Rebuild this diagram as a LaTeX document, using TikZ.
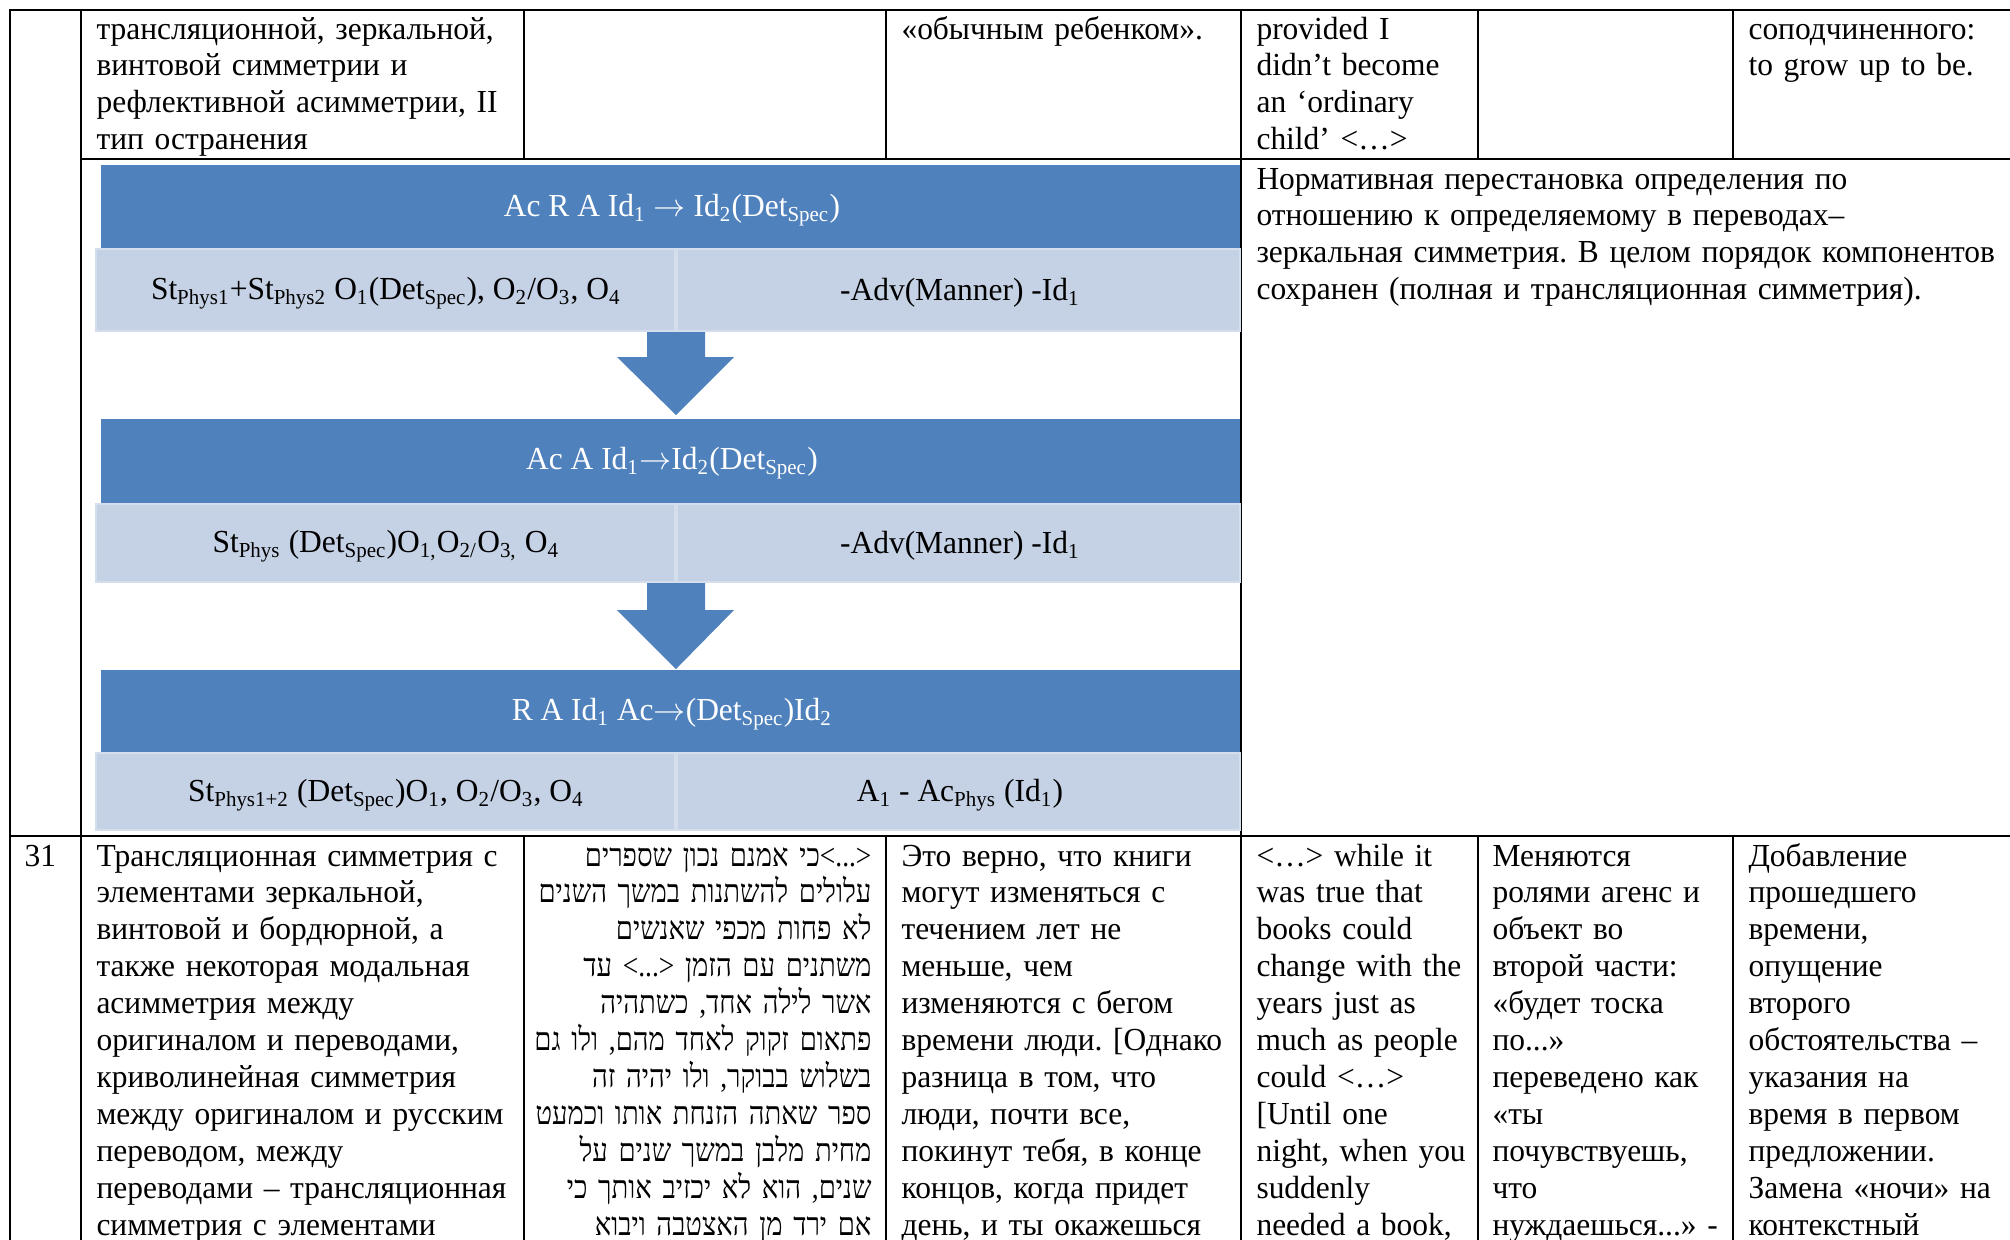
\documentclass[tikz,border=0pt]{standalone}
\usepackage{fontspec}
\setmainfont{Liberation Serif}[FakeStretch=0.98]
\newfontfamily\hebfont[Script=Hebrew,FakeStretch=0.855]{Liberation Serif}
\TeXXeTstate=1
\frenchspacing
\definecolor{bandblue}{RGB}{79,129,189}
\definecolor{celltint}{RGB}{197,209,228}
\definecolor{celledge}{RGB}{213,222,236}
\newcommand\sbs[1]{\textsubscript{#1}}
\newcommand\rarr{\ensuremath{\rightarrow}}

\begin{document}
\begin{tikzpicture}[x=0.374pt,y=-0.374pt,
  rule/.style={line width=0.8pt, line cap=rect},
  celltext/.style={inner sep=0pt, font=\fontsize{12pt}{13.8pt}\selectfont\frenchspacing,
    align=left, text width=#1, anchor=base west},
  hebtext/.style={inner sep=0pt, font=\fontsize{12pt}{13.8pt}\selectfont\hebfont,
    align=right, text width=#1, anchor=base east},
  band/.style={fill=bandblue, draw=none},
  tint/.style={fill=celltint, draw=celledge, line width=1.1pt},
  bandlabel/.style={inner sep=0pt, text=white, font=\fontsize{12pt}{13.8pt}\selectfont},
  tintlabel/.style={inner sep=0pt, text=black, font=\fontsize{12pt}{13.8pt}\selectfont},
  flowarrow/.style={fill=bandblue, draw=none}
]
\useasboundingbox (0,0) rectangle (2010,1239);
\fill[white] (0,0) rectangle (2010,1239);
\clip (0,0) rectangle (2010,1239);

% ---- table rules ----
\draw[rule] (10,10) -- (2010,10);
\draw[rule] (81,159) -- (2010,159);
\draw[rule] (10,836) -- (2010,836);
\draw[rule] (10,10) -- (10,1239);
\draw[rule] (81,10) -- (81,1239);
\foreach \cx in {524,886,1241,1478,1733}{
  \draw[rule] (\cx,10) -- (\cx,159);
  \draw[rule] (\cx,836) -- (\cx,1239);
}
\draw[rule] (1241,159) -- (1241,836);

% ---- upper row (continued from the previous page) ----
\node[celltext=160pt] (uA) at (96,39) {трансляционной, зеркальной,\\винтовой симметрии и\\рефлективной асимметрии, II\\тип остранения};
\node[celltext=125pt] (uB) at (901,39) {«обычным ребенком».};
\node[celltext=85pt] (uC) at (1256,39) {provided I\\didn’t become\\an ‘ordinary\\child’ <…>};
\node[celltext=100pt] (uD) at (1748,39) {соподчиненного:\\to grow up to be.};

% ---- scheme: three stages ----
\fill[band] (101,165) rectangle (1240,248);
\draw[tint] (96,249) rectangle (675,331);
\draw[tint] (677,249) rectangle (1240,331);
\fill[flowarrow] (647,332) -- (705,332) -- (705,357) -- (734,357) -- (676,415) -- (617,357) -- (647,357) -- cycle;

\fill[band] (101,419) rectangle (1240,503);
\draw[tint] (96,504) rectangle (675,582);
\draw[tint] (677,504) rectangle (1240,582);
\fill[flowarrow] (647,583) -- (705,583) -- (705,610) -- (734,610) -- (676,669) -- (617,610) -- (647,610) -- cycle;

\fill[band] (101,670) rectangle (1240,752);
\draw[tint] (96,753) rectangle (675,830);
\draw[tint] (677,753) rectangle (1240,830);

\node[bandlabel] (s1) at (672,210) {Ac R A Id\sbs{1} \rarr{} Id\sbs{2}(Det\sbs{Spec})};
\node[tintlabel] (s1a) at (386,293) {St\sbs{Phys1}+St\sbs{Phys2} O\sbs{1}(Det\sbs{Spec}), O\sbs{2}/O\sbs{3}, O\sbs{4}};
\node[tintlabel] (s1b) at (960,293) {-Adv(Manner) -Id\sbs{1}};

\node[bandlabel] (s2) at (672,463) {Ac A Id\sbs{1}\rarr{}Id\sbs{2}(Det\sbs{Spec})};
\node[tintlabel] (s2a) at (386,546) {St\sbs{Phys} (Det\sbs{Spec})O\sbs{1,}O\sbs{2/}O\sbs{3,} O\sbs{4}};
\node[tintlabel] (s2b) at (960,546) {-Adv(Manner) -Id\sbs{1}};

\node[bandlabel] (s3) at (672,714) {R A Id\sbs{1} Ac\rarr{}(Det\sbs{Spec})Id\sbs{2}};
\node[tintlabel] (s3a) at (386,795) {St\sbs{Phys1+2} (Det\sbs{Spec})O\sbs{1}, O\sbs{2}/O\sbs{3}, O\sbs{4}};
\node[tintlabel] (s3b) at (960,795) {A\sbs{1} - Ac\sbs{Phys} (Id\sbs{1})};

\node[celltext=280pt] (note) at (1256,189) {Нормативная перестановка определения по\\отношению к определяемому в переводах–\\зеркальная симметрия. В целом порядок компонентов\\сохранен (полная и трансляционная симметрия).};

% ---- row 31 ----
\node[celltext=20pt] (num) at (24,866) {31};
\node[celltext=160pt] (r31a) at (96,866) {Трансляционная симметрия с\\элементами зеркальной,\\винтовой и бордюрной, а\\также некоторая модальная\\асимметрия между\\оригиналом и переводами,\\криволинейная симметрия\\между оригиналом и русским\\переводом, между\\переводами – трансляционная\\симметрия с элементами};
\node[hebtext=132pt] (r31b) at (872,866) {%
\beginR\beginL<...>\endL כי אמנם נכון שספרים\endR\\
\beginR עלולים להשתנות במשך השנים\endR\\
\beginR לא פחות מכפי שאנשים\endR\\
\beginR משתנים עם הזמן \beginL<...>\endL{} עד\endR\\
\beginR אשר לילה אחד, כשתהיה\endR\\
\beginR פתאום זקוק לאחד מהם, ולו גם\endR\\
\beginR בשלוש בבוקר, ולו יהיה זה\endR\\
\beginR ספר שאתה הזנחת אותו וכמעט\endR\\
\beginR מחית מלבן במשך שנים על\endR\\
\beginR שנים, הוא לא יכזיב אותך כי\endR\\
\beginR אם ירד מן האצטבה ויבוא\endR};
\node[celltext=125pt] (r31c) at (901,866) {Это верно, что книги\\могут изменяться с\\течением лет не\\меньше, чем\\изменяются с бегом\\времени люди. [Однако\\разница в том, что\\люди, почти все,\\покинут тебя, в конце\\концов, когда придет\\день, и ты окажешься};
\node[celltext=85pt] (r31d) at (1256,866) {<…> while it\\was true that\\books could\\change with the\\years just as\\much as people\\could <…>\\{}[Until one\\night, when you\\suddenly\\needed a book,};
\node[celltext=90pt] (r31e) at (1492,866) {Меняются\\ролями агенс и\\объект во\\второй части:\\«будет тоска\\по...»\\переведено как\\«ты\\почувствуешь,\\что\\нуждаешься...» -};
\node[celltext=100pt] (r31f) at (1748,866) {Добавление\\прошедшего\\времени,\\опущение\\второго\\обстоятельства –\\указания на\\время в первом\\предложении.\\Замена «ночи» на\\контекстный};
\end{tikzpicture}
\end{document}
